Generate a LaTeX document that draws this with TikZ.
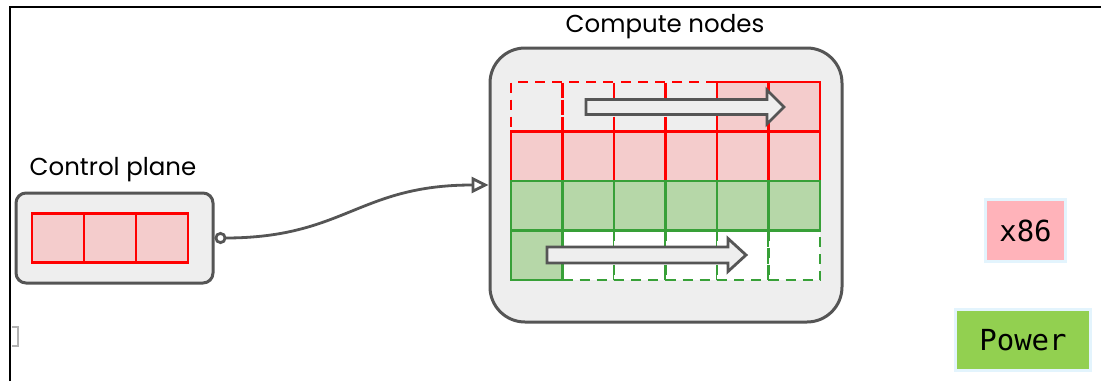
\documentclass[tikz,border=0pt]{standalone}
\usepackage{fontspec}
\setmainfont{Poppins}
\newfontfamily\legendfont{DejaVu Sans Mono}
\usetikzlibrary{arrows.meta, positioning}
\definecolor{boxgray}{HTML}{EEEEEE}
\definecolor{edgegray}{HTML}{555555}
\definecolor{cellred}{HTML}{FF0000}
\definecolor{cellpink}{HTML}{F4CCCC}
\definecolor{cellgreen}{HTML}{38A038}
\definecolor{cellmint}{HTML}{B6D7A8}
\definecolor{legendpink}{HTML}{FFB3BA}
\definecolor{legendgreen}{HTML}{92D050}
\definecolor{halo}{HTML}{E3F4FD}
\tikzset{
  panel/.style={draw=edgegray, fill=boxgray, line width=3pt, inner sep=0},
  cell/.style={minimum width=51.5pt, minimum height=49.5pt, inner sep=0, line width=2.8pt},
  redcell/.style={cell, draw=cellred, fill=cellpink},
  reddash/.style={cell, draw=cellred, dash pattern=on 10pt off 7pt},
  greencell/.style={cell, draw=cellgreen, fill=cellmint},
  greendash/.style={cell, draw=cellgreen, fill=white, dash pattern=on 10pt off 7pt},
  shift arrow/.style={draw=edgegray, fill=boxgray, line width=2.8pt, line join=miter},
  wire/.style={draw=edgegray, line width=2.8pt,
    {Circle[open, length=12pt, width=12pt]}-{Triangle[open, length=17pt, width=16pt]}},
  legend/.style={draw=halo, line width=3.5pt, inner sep=0, font=\legendfont\fontsize{29}{33}\selectfont},
  title/.style={font=\fontsize{24.5}{28}\selectfont}
}
\begin{document}
\begin{tikzpicture}[x=1pt, y=-1pt]
  \useasboundingbox (0,0) rectangle (1101,381);
  % Rahmen
  \draw[line width=1.8pt] (10,381) -- (10,7) -- (1101,7);
  \draw[gray!60, line width=1.5pt] (12,327) -- (18,327) -- (18,346) -- (12,346);

  % Control plane
  \node[panel, rounded corners=10pt, minimum width=197pt, minimum height=90pt] (cp) at (114.5,238) {};
  \node[title] (cptitle) at (113,170) {Control plane};
  \foreach \i in {0,1,2}
    \node[redcell, minimum width=52pt] (cp-\i) at (58+52*\i,238) {};

  % Compute nodes
  \node[panel, rounded corners=35pt, minimum width=352pt, minimum height=274pt] (comp) at (666,185) {};
  \node[title] (comptitle) at (665,27) {Compute nodes};
  % Zeile 1 und 4: gestrichelt zuerst
  \foreach \c in {1,...,4}
    \node[reddash] (n-1-\c) at ({511+51.5*(\c-0.5)},106.75) {};
  \foreach \c in {2,...,6}
    \node[greendash] (n-4-\c) at ({511+51.5*(\c-0.5)},255.25) {};
  \foreach \c in {5,6}
    \node[redcell] (n-1-\c) at ({511+51.5*(\c-0.5)},106.75) {};
  \foreach \c in {1,...,6}
    \node[redcell] (n-2-\c) at ({511+51.5*(\c-0.5)},156.25) {};
  \foreach \c in {1,...,6}
    \node[greencell] (n-3-\c) at ({511+51.5*(\c-0.5)},205.75) {};
  \node[greencell] (n-4-1) at (536.75,255.25) {};

  % Verschiebung
  \draw[shift arrow] (586,99.5) -- (767,99.5) -- (767,90) -- (784,107) -- (767,124) -- (767,114.5) -- (586,114.5) -- cycle;
  \draw[shift arrow] (547,247) -- (728,247) -- (728,238.5) -- (746,255) -- (728,271.5) -- (728,263) -- (547,263) -- cycle;

  % Verbindung
  \draw[wire] (cp.east) .. controls +(130,0) and +(-130,0) .. (comp.west);

  % Legende
  \node[legend, fill=legendpink, minimum width=80pt, minimum height=62pt] (x86) at (1025.5,230.5) {x86};
  \node[legend, fill=legendgreen, minimum width=135pt, minimum height=61pt] (power) at (1023,340) {Power};
\end{tikzpicture}
\end{document}
